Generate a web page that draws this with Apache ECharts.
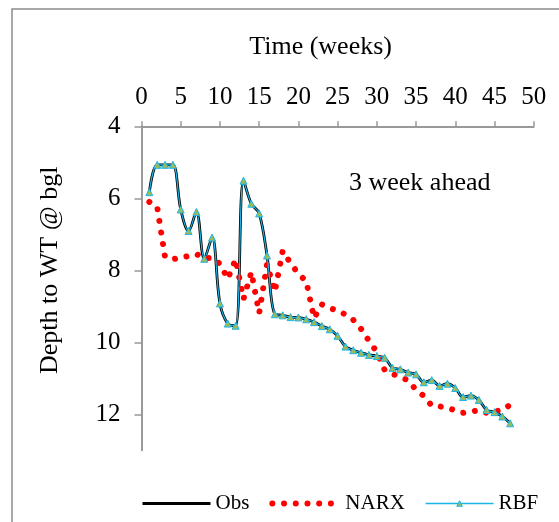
<!DOCTYPE html>
<html><head><meta charset="utf-8">
<script src="https://cdn.jsdelivr.net/npm/echarts@6/dist/echarts.min.js"></script>
<style>html,body{margin:0;padding:0;background:#fff}#c{width:559px;height:522px}</style>
</head><body><div id="c"></div>
<script>
const weeks = [1,2,3,4,5,6,7,8,9,10,11,12,13,14,15,16,17,18,19,20,21,22,23,24,25,26,27,28,29,30,31,32,33,34,35,36,37,38,39,40,41,42,43,44,45,46,47];
const obs = [5.83,5.07,5.07,5.07,6.31,6.91,6.38,7.68,7.09,8.92,9.48,9.54,5.51,6.15,6.42,7.59,9.22,9.25,9.30,9.31,9.36,9.44,9.55,9.64,9.82,10.12,10.22,10.29,10.35,10.38,10.43,10.71,10.75,10.84,10.89,11.11,11.05,11.21,11.15,11.27,11.52,11.48,11.60,11.88,11.94,12.06,12.25];
const narx = [6.10,6.24,7.63,7.69,7.66,7.60,7.55,7.66,7.66,7.82,8.24,7.69,8.80,8.05,9.19,7.83,8.60,7.46,7.80,8.10,8.30,9.33,8.95,9.05,9.12,9.23,9.38,9.63,9.96,10.27,10.77,10.88,10.96,11.06,11.32,11.49,11.76,11.78,11.82,11.89,11.96,11.93,11.89,11.96,11.92,11.88,11.74];
const rbf = [5.83,5.07,5.07,5.07,6.31,6.91,6.38,7.68,7.09,8.92,9.48,9.54,5.51,6.15,6.42,7.59,9.22,9.25,9.30,9.31,9.36,9.44,9.55,9.64,9.82,10.12,10.22,10.29,10.35,10.38,10.43,10.71,10.75,10.84,10.89,11.11,11.05,11.21,11.15,11.27,11.52,11.48,11.60,11.88,11.94,12.06,12.25];
const yTicks = [4,6,8,10,12];
const seriesNames = ['Obs','NARX','RBF'];

const FONT = 'Liberation Serif';
const NARX_DASH = [0.01, 11.7];
const RBF_COLOR = '#1cb5e8';
const pair = (arr) => weeks.map((w, i) => [w, arr[i]]);
const chart = echarts.init(document.getElementById('c'));
chart.setOption({
  animation: false,
  backgroundColor: '#fff',
  grid: {left: 141.5, right: 25.3, top: 126.3, bottom: 71.7},
  graphic: [
    {type: 'rect', shape: {x: 12, y: 9, width: 600, height: 600}, style: {fill: 'none', stroke: '#8c8c8c', lineWidth: 1.5}, silent: true},
    {type: 'text', left: 349, top: 170, style: {text: '3 week ahead', font: '26px "Liberation Serif"', fill: '#000'}}
  ],
  legend: {
    left: 136, top: 488, itemWidth: 68, itemHeight: 7, itemGap: 20,
    textStyle: {fontFamily: FONT, fontSize: 21, color: '#000'},
    data: [
      {name: seriesNames[0], itemStyle: {opacity: 0}, lineStyle: {width: 3, color: '#000'}},
      {name: seriesNames[1], itemStyle: {opacity: 0}, lineStyle: {width: 6, color: '#ff0000', type: NARX_DASH, cap: 'round'}},
      {name: seriesNames[2], itemStyle: {color: '#9bbb59', borderColor: RBF_COLOR, borderWidth: 1}, lineStyle: {width: 1.5, color: RBF_COLOR}}
    ]
  },
  xAxis: {
    type: 'value', position: 'top', min: 0, max: 50, interval: 5,
    name: 'Time (weeks)', nameLocation: 'middle', nameGap: 66,
    nameTextStyle: {fontFamily: FONT, fontSize: 26, color: '#000', padding: [0, 34, 0, 0]},
    axisLine: {lineStyle: {color: '#999', width: 2}},
    axisTick: {length: 5, lineStyle: {color: '#999', width: 1.5}},
    axisLabel: {fontFamily: FONT, fontSize: 25, color: '#000', margin: 16},
    splitLine: {show: false}
  },
  yAxis: {
    type: 'value', inverse: true, min: 4, max: 13,
    name: 'Depth to WT @ bgl', nameLocation: 'middle', nameGap: 78,
    nameTextStyle: {fontFamily: FONT, fontSize: 26, color: '#000', padding: [0, 0, 0, 36]},
    axisLine: {show: true, lineStyle: {color: '#999', width: 2}},
    axisTick: {show: true, length: 7, customValues: yTicks, lineStyle: {color: '#999', width: 1.5}},
    axisLabel: {fontFamily: FONT, fontSize: 25, color: '#000', margin: 21, customValues: yTicks},
    splitLine: {show: false}
  },
  series: [
    {name: 'Obs', type: 'line', data: pair(obs), smooth: 0.35, symbol: 'none',
     lineStyle: {color: '#000', width: 2.8}, itemStyle: {color: '#000'}, z: 2},
    {name: 'NARX', type: 'line', data: pair(narx), smooth: false, symbol: 'none',
     lineStyle: {color: '#ff0000', width: 6, type: NARX_DASH, cap: 'round'}, itemStyle: {color: '#ff0000'}, z: 3},
    {name: 'RBF', type: 'line', data: pair(rbf), smooth: 0.35, symbol: 'triangle', symbolSize: 7,
     lineStyle: {color: RBF_COLOR, width: 1.2},
     itemStyle: {color: '#9bbb59', borderColor: RBF_COLOR, borderWidth: 1}, z: 4}
  ]
});
</script>
</body></html>
